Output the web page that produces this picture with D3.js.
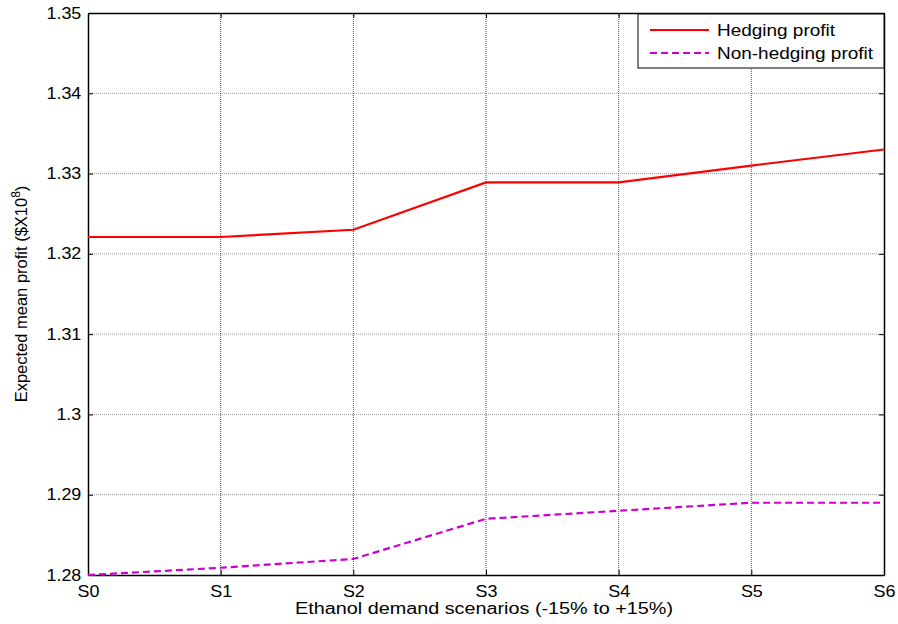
<!DOCTYPE html>
<html><head><meta charset="utf-8">
<script src="https://cdn.jsdelivr.net/npm/d3@7/dist/d3.min.js"></script>
<style>body{margin:0;background:#fff}svg{display:block}text{font-family:"Liberation Sans",Arial,sans-serif}</style>
</head><body>
<script>
const categories = ["S0","S1","S2","S3","S4","S5","S6"];
const hedging = [1.3221, 1.3221, 1.3230, 1.3289, 1.3289, 1.3310, 1.3330];
const nonHedging = [1.2800, 1.2809, 1.2820, 1.2870, 1.2880, 1.2890, 1.2890];
const yTicks = [1.28, 1.29, 1.30, 1.31, 1.32, 1.33, 1.34, 1.35];
const yTickLabels = ["1.28","1.29","1.3","1.31","1.32","1.33","1.34","1.35"];
const seriesNames = ["Hedging profit", "Non-hedging profit"];

const W = 898, H = 624;
const m = {left: 88, right: 14, top: 13, bottom: 49};
const svg = d3.select("body").append("svg").attr("width", W).attr("height", H);
const x = d3.scalePoint().domain(categories).range([m.left, W - m.right]);
const y = d3.scaleLinear().domain([1.28, 1.35]).range([H - m.bottom, m.top]);

// grid
const g = svg.append("g");
g.selectAll(".hg").data(yTicks.slice(1, -1)).enter().append("line")
  .attr("x1", m.left).attr("x2", W - m.right)
  .attr("y1", d => y(d)).attr("y2", d => y(d))
  .attr("stroke", "#999").attr("stroke-width", 1).attr("stroke-dasharray", "1,1");
g.selectAll(".vg").data(categories.slice(1, -1)).enter().append("line")
  .attr("x1", d => x(d)).attr("x2", d => x(d))
  .attr("y1", m.top).attr("y2", H - m.bottom)
  .attr("stroke", "#555").attr("stroke-width", 1).attr("stroke-dasharray", "1,1");

// axes (ticks inside)
const yAx = svg.append("g").attr("transform", `translate(${m.left},0)`)
  .call(d3.axisLeft(y).tickValues(yTicks).tickFormat((d, i) => yTickLabels[i]).tickSizeInner(-5).tickSizeOuter(0).tickPadding(6));
const yAxR = svg.append("g").attr("transform", `translate(${W - m.right},0)`)
  .call(d3.axisRight(y).tickValues(yTicks).tickFormat("").tickSizeInner(-5).tickSizeOuter(0));
const xAx = svg.append("g").attr("transform", `translate(0,${H - m.bottom})`)
  .call(d3.axisBottom(x).tickSizeInner(-5).tickSizeOuter(0).tickPadding(11));
const xAxT = svg.append("g").attr("transform", `translate(0,${m.top})`)
  .call(d3.axisTop(x).tickFormat("").tickSizeInner(-5).tickSizeOuter(0));
[yAx, yAxR, xAx, xAxT].forEach(a => {
  a.select(".domain").attr("stroke", "#000").attr("stroke-width", 1.5);
  a.selectAll(".tick line").attr("stroke", "#000");
  a.selectAll("text").attr("font-size", 16).attr("fill", "#000")
    .attr("transform", "scale(1.12,1)")
    .style("font-family", '"Liberation Sans",Arial,sans-serif');
});

// lines
const line = d3.line().x((d, i) => x(categories[i])).y(d => y(d));
svg.append("path").datum(hedging).attr("d", line).attr("fill", "none")
  .attr("stroke", "#ff0000").attr("stroke-width", 2.2);
svg.append("path").datum(nonHedging).attr("d", line).attr("fill", "none")
  .attr("stroke", "#cc00cc").attr("stroke-width", 2.2).attr("stroke-dasharray", "7,4");

// labels
svg.append("text").attr("x", 484).attr("y", 614)
  .attr("text-anchor", "middle").attr("font-size", 16)
  .attr("textLength", 378).attr("lengthAdjust", "spacingAndGlyphs")
  .text("Ethanol demand scenarios (-15% to +15%)");
const yl = svg.append("text").attr("transform", `translate(27,${(m.top + H - m.bottom) / 2})rotate(-90)`)
  .attr("text-anchor", "middle").attr("font-size", 16.5);
yl.append("tspan").text("Expected mean profit ($X10");
yl.append("tspan").attr("dy", -7).attr("font-size", 12).text("8");
yl.append("tspan").attr("dy", 7).text(")");

// legend
const lg = svg.append("g");
lg.append("rect").attr("x", 638).attr("y", 14).attr("width", 246).attr("height", 54)
  .attr("fill", "#fff").attr("stroke", "#000").attr("stroke-width", 1);
const lstyles = [{c: "#ff0000", d: null, w: 118}, {c: "#cc00cc", d: "7,4", w: 156}];
seriesNames.forEach((n, i) => {
  const yy = 30 + i * 23;
  const l = lg.append("line").attr("x1", 650).attr("x2", 709).attr("y1", yy).attr("y2", yy)
    .attr("stroke", lstyles[i].c).attr("stroke-width", 2.2);
  if (lstyles[i].d) l.attr("stroke-dasharray", lstyles[i].d);
  lg.append("text").attr("x", 717).attr("y", yy + 6).attr("font-size", 17)
    .attr("textLength", lstyles[i].w).attr("lengthAdjust", "spacingAndGlyphs").text(n);
});
</script>
</body></html>
